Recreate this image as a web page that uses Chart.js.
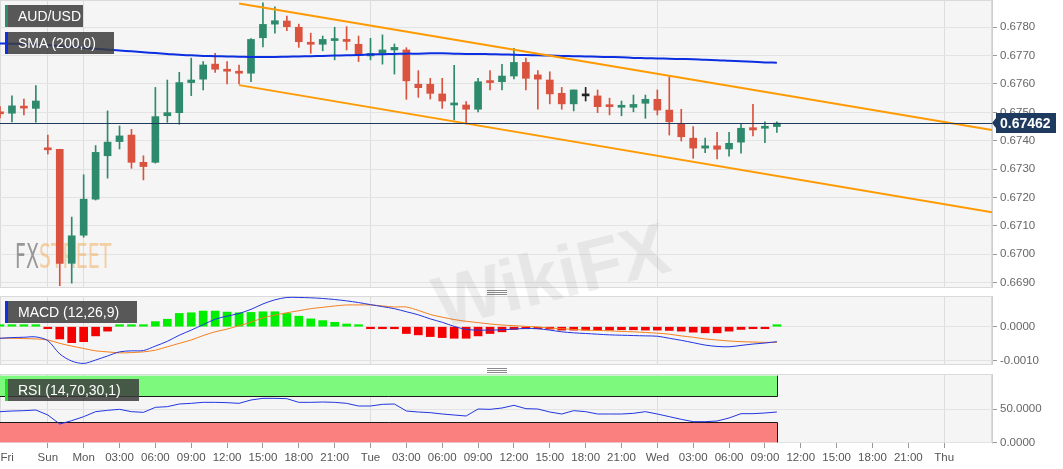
<!DOCTYPE html>
<html>
<head>
<meta charset="utf-8">
<title>AUD/USD</title>
<script src="https://cdn.jsdelivr.net/npm/chart.js@4.4.1/dist/chart.umd.min.js"></script>
<style>
  body { margin: 0; background: #fff; }
  #wrap { position: relative; width: 1063px; height: 469px; overflow: hidden; font-family: "Liberation Sans", Arial, sans-serif; }
  canvas { position: absolute; left: 0; }
  .tag { position: absolute; left: 5px; height: 22px; line-height: 22px; padding-left: 10px; box-sizing: border-box;
         color: #fff; font-size: 14px; background: rgba(60,60,60,0.85); border-left: 3px solid; white-space: nowrap; }
  .grip { position: absolute; left: 487px; width: 20px; height: 5px;
          background: repeating-linear-gradient(#8a8a8a 0 1px, transparent 1px 2px); }
  .wm { position: absolute; left: 445px; top: 262px; font: bold 72px "Liberation Sans", Arial, sans-serif;
        color: rgba(110,110,110,0.11); transform: rotate(-14deg); transform-origin: left bottom; pointer-events: none; }
</style>
</head>
<body>
<div id="wrap">
  <canvas id="main" width="1063" height="288" style="top:0"></canvas>
  <canvas id="macd" width="1063" height="69" style="top:296px"></canvas>
  <canvas id="rsi" width="1063" height="95" style="top:374px"></canvas>
  <div class="tag" style="top:5px;width:78px;border-color:#2e8a6c">AUD/USD</div>
  <div class="tag" style="top:32px;width:109px;border-color:#1030e0">SMA (200,0)</div>
  <div class="tag" style="top:301px;width:132px;border-color:#1030e0">MACD (12,26,9)</div>
  <div class="tag" style="top:379px;width:134px;border-color:#22dd22">RSI (14,70,30,1)</div>
  <div class="grip" style="top:290px"></div>
  <div class="grip" style="top:368px"></div>
  <div class="wm">WikiFX</div>
</div>
<script>
// hourly candles, index 0 = last Friday bars, 7 = Mon 00:00, 65 = Wed 10:00
const OPEN = [0.67500, 0.67497, 0.67520, 0.67514, 0.67372, 0.67370, 0.66968, 0.67067, 0.67194, 0.67347,
  0.67397, 0.67420, 0.67324, 0.67324, 0.67488, 0.67499, 0.67605, 0.67617, 0.67670, 0.67647,
  0.67643, 0.67638, 0.67763, 0.67811, 0.67822, 0.67800, 0.67747, 0.67740, 0.67753, 0.67753,
  0.67740, 0.67699, 0.67708, 0.67720, 0.67720, 0.67599, 0.67599, 0.67565, 0.67526, 0.67526,
  0.67511, 0.67611, 0.67608, 0.67628, 0.67676, 0.67632, 0.67614, 0.67567, 0.67530, 0.67558,
  0.67558, 0.67526, 0.67518, 0.67518, 0.67532, 0.67546, 0.67508, 0.67459, 0.67409, 0.67374,
  0.67382, 0.67371, 0.67395, 0.67446, 0.67444, 0.67450];
const HIGH = [0.67520, 0.67558, 0.67547, 0.67594, 0.67420, 0.67370, 0.67131, 0.67280, 0.67383, 0.67505,
  0.67452, 0.67440, 0.67347, 0.67588, 0.67614, 0.67641, 0.67691, 0.67679, 0.67708, 0.67679,
  0.67667, 0.67760, 0.67886, 0.67872, 0.67839, 0.67811, 0.67779, 0.67769, 0.67800, 0.67802,
  0.67769, 0.67761, 0.67773, 0.67741, 0.67728, 0.67647, 0.67620, 0.67620, 0.67666, 0.67538,
  0.67620, 0.67647, 0.67669, 0.67726, 0.67691, 0.67647, 0.67643, 0.67588, 0.67579, 0.67588,
  0.67579, 0.67550, 0.67540, 0.67561, 0.67561, 0.67579, 0.67626, 0.67511, 0.67450, 0.67409,
  0.67430, 0.67430, 0.67459, 0.67528, 0.67467, 0.67467];
const LOW = [0.67480, 0.67466, 0.67491, 0.67465, 0.67353, 0.66889, 0.66898, 0.67060, 0.67191, 0.67268,
  0.67371, 0.67303, 0.67262, 0.67321, 0.67465, 0.67458, 0.67559, 0.67579, 0.67641, 0.67600,
  0.67600, 0.67608, 0.67731, 0.67779, 0.67788, 0.67729, 0.67708, 0.67717, 0.67685, 0.67720,
  0.67679, 0.67685, 0.67670, 0.67635, 0.67546, 0.67553, 0.67547, 0.67514, 0.67473, 0.67459,
  0.67502, 0.67579, 0.67579, 0.67618, 0.67579, 0.67511, 0.67530, 0.67511, 0.67505, 0.67540,
  0.67499, 0.67491, 0.67488, 0.67502, 0.67479, 0.67491, 0.67420, 0.67399, 0.67338, 0.67358,
  0.67336, 0.67346, 0.67356, 0.67417, 0.67393, 0.67429];
const CLOSE = [0.67495, 0.67523, 0.67515, 0.67540, 0.67368, 0.66968, 0.67065, 0.67194, 0.67359, 0.67395,
  0.67417, 0.67324, 0.67309, 0.67485, 0.67499, 0.67605, 0.67614, 0.67667, 0.67652, 0.67645,
  0.67638, 0.67757, 0.67810, 0.67823, 0.67802, 0.67749, 0.67740, 0.67757, 0.67757, 0.67750,
  0.67702, 0.67708, 0.67720, 0.67729, 0.67611, 0.67587, 0.67567, 0.67540, 0.67530, 0.67511,
  0.67608, 0.67605, 0.67628, 0.67676, 0.67620, 0.67617, 0.67565, 0.67530, 0.67579, 0.67558,
  0.67520, 0.67520, 0.67523, 0.67528, 0.67546, 0.67508, 0.67467, 0.67414, 0.67374, 0.67382,
  0.67370, 0.67391, 0.67444, 0.67438, 0.67450, 0.67462];
const SMA_200 = [0.67743, 0.67742, 0.67741, 0.67739, 0.67737, 0.67734, 0.67731, 0.67728, 0.67724, 0.67721,
  0.67718, 0.67715, 0.67712, 0.67709, 0.67706, 0.67703, 0.67701, 0.67699, 0.67698, 0.67697,
  0.67696, 0.67695, 0.67695, 0.67695, 0.67696, 0.67697, 0.67698, 0.67699, 0.67700, 0.67701,
  0.67702, 0.67704, 0.67705, 0.67706, 0.67707, 0.67707, 0.67708, 0.67708, 0.67707, 0.67706,
  0.67706, 0.67705, 0.67704, 0.67703, 0.67702, 0.67701, 0.67700, 0.67699, 0.67698, 0.67697,
  0.67696, 0.67695, 0.67694, 0.67692, 0.67691, 0.67690, 0.67689, 0.67688, 0.67687, 0.67685,
  0.67684, 0.67682, 0.67680, 0.67678, 0.67676, 0.67675];
const LAST_PRICE = 0.67462;

// descending channel drawn on the price panel (hour index -> price)
const CHANNEL_X = [20, 83];
const CHANNEL_UPPER = [0.67884, 0.67438];
const CHANNEL_LOWER = [0.67596, 0.67148];

const MACD_LINE = [-0.00034, -0.00032, -0.00031, -0.00030, -0.00041, -0.00080, -0.00101, -0.00108, -0.00098, -0.00086,
  -0.00074, -0.00071, -0.00070, -0.00057, -0.00043, -0.00025, -0.00010, 0.00006, 0.00022, 0.00031,
  0.00039, 0.00051, 0.00067, 0.00079, 0.00086, 0.00086, 0.00085, 0.00083, 0.00080, 0.00076,
  0.00071, 0.00065, 0.00059, 0.00053, 0.00044, 0.00035, 0.00023, 0.00013, 0.00001, -0.00008,
  -0.00010, -0.00010, -0.00009, -0.00007, -0.00005, -0.00006, -0.00010, -0.00015, -0.00018, -0.00020,
  -0.00022, -0.00024, -0.00025, -0.00026, -0.00027, -0.00028, -0.00034, -0.00040, -0.00047, -0.00054,
  -0.00058, -0.00059, -0.00055, -0.00051, -0.00048, -0.00044];
const MACD_SIGNAL = [-0.00034, -0.00034, -0.00035, -0.00036, -0.00039, -0.00049, -0.00057, -0.00064, -0.00071, -0.00074,
  -0.00077, -0.00076, -0.00074, -0.00069, -0.00059, -0.00049, -0.00039, -0.00026, -0.00015, -0.00007,
  0.00003, 0.00013, 0.00026, 0.00034, 0.00041, 0.00047, 0.00053, 0.00057, 0.00061, 0.00064,
  0.00064, 0.00064, 0.00061, 0.00058, 0.00058, 0.00048, 0.00036, 0.00028, 0.00021, 0.00016,
  0.00012, 0.00008, 0.00005, 0.00003, 0.00001, -0.00001, -0.00004, -0.00006, -0.00008, -0.00010,
  -0.00011, -0.00012, -0.00014, -0.00015, -0.00017, -0.00019, -0.00022, -0.00027, -0.00031, -0.00036,
  -0.00039, -0.00042, -0.00044, -0.00045, -0.00046, -0.00046];
const MACD_HIST = [0.00001, 0.00001, 0.00001, 0.00001, -0.00002, -0.00036, -0.00047, -0.00044, -0.00027, -0.00013,
  0.00001, 0.00002, 0.00002, 0.00015, 0.00022, 0.00039, 0.00041, 0.00046, 0.00046, 0.00043,
  0.00041, 0.00042, 0.00044, 0.00044, 0.00039, 0.00031, 0.00023, 0.00018, 0.00013, 0.00008,
  0.00001, -0.00002, -0.00003, -0.00006, -0.00020, -0.00024, -0.00029, -0.00032, -0.00034, -0.00034,
  -0.00027, -0.00020, -0.00015, -0.00008, -0.00006, -0.00006, -0.00007, -0.00010, -0.00010, -0.00010,
  -0.00010, -0.00010, -0.00009, -0.00009, -0.00010, -0.00010, -0.00011, -0.00013, -0.00016, -0.00018,
  -0.00018, -0.00013, -0.00008, -0.00004, -0.00002, 0.00002];

const RSI_14 = [46, 47, 47.5, 48.5, 41, 27.5, 32.5, 38.5, 46, 48,
  49.5, 46, 45, 52.5, 53.5, 57.5, 58.5, 60, 60, 59.5,
  58.5, 63.5, 66, 66, 65.5, 60, 60, 60.5, 60, 58.5,
  54.5, 54.5, 57, 57.5, 47, 45.5, 44.5, 42.5, 41, 39.5,
  50, 49.5, 51.5, 55.5, 50.5, 50, 45.5, 42.5, 47.5, 46,
  42.5, 42.5, 42.5, 43.5, 46, 42.5, 38.5, 34.5, 31, 31,
  32, 36.5, 43, 43, 44, 45.5];
const RSI_BANDS = [30, 70];

const TIME_TICKS = [0.6, 4, 7, 10, 13, 16, 19, 22, 25, 28, 31, 34, 37, 40, 43, 46, 49, 52, 55, 58, 61, 64, 67, 70, 73, 76, 79];
const TIME_LABELS = ['Fri', 'Sun', 'Mon', '03:00', '06:00', '09:00', '12:00', '15:00', '18:00', '21:00',
  'Tue', '03:00', '06:00', '09:00', '12:00', '15:00', '18:00', '21:00',
  'Wed', '03:00', '06:00', '09:00', '12:00', '15:00', '18:00', '21:00', 'Thu'];
const DAY_TICKS = [4, 7, 31, 55, 79];
const PRICE_TICKS = [0.6690, 0.6700, 0.6710, 0.6720, 0.6730, 0.6740, 0.6750, 0.6760, 0.6770, 0.6780];
const MACD_TICKS = [-0.0010, 0];
const RSI_TICKS = [0, 50];

Chart.defaults.font.family = '"Liberation Sans", Arial, sans-serif';
Chart.defaults.font.size = 11;
Chart.defaults.color = '#666';

const UP = '#2e8a6c', DOWN = '#d9533f', FLAT = '#222';
const IDX = OPEN.map((_, i) => i);
const candleColors = IDX.map(i => CLOSE[i] > OPEN[i] ? UP : (CLOSE[i] < OPEN[i] ? DOWN : FLAT));

function noPad(s) {
  s.paddingTop = 0; s.paddingBottom = 0; s.paddingLeft = 0; s.paddingRight = 0;
}

function timeAxis(showLabels) {
  return {
    type: 'linear', min: 0, max: 83, offset: false, bounds: 'data',
    afterBuildTicks: s => { s.ticks = TIME_TICKS.map(v => ({ value: v })); },
    afterFit: s => { s.height = showLabels ? 26 : 0; noPad(s); },
    grid: {
      offset: false,
      color: c => (c.tick && DAY_TICKS.includes(c.tick.value)) ? '#dddddd' : 'rgba(0,0,0,0)',
      drawTicks: showLabels,
      tickLength: 5,
      tickColor: c => c.index === 0 ? 'rgba(0,0,0,0)' : '#999'
    },
    border: { display: false },
    ticks: { display: showLabels, autoSkip: false, maxRotation: 0, padding: 3, color: '#555',
             font: { size: 11.5 }, callback: (v, i) => TIME_LABELS[i] }
  };
}

function valueAxis(min, max, ticks) {
  return {
    position: 'right', min: min, max: max, beginAtZero: false, bounds: 'data',
    afterBuildTicks: s => { s.ticks = ticks.map(v => ({ value: v })); },
    afterFit: s => { s.width = 71; noPad(s); },
    grid: { color: '#e3e3e3', tickLength: 5, tickColor: '#999' },
    border: { color: '#cfcfcf' },
    ticks: { padding: 3, color: '#666', font: { size: 11.5 }, callback: v => v.toFixed(4) }
  };
}

const panelBg = {
  id: 'panelBg',
  beforeDraw(chart) {
    const { ctx, chartArea: a } = chart;
    ctx.save();
    ctx.fillStyle = '#f5f5f5';
    ctx.fillRect(a.left, a.top, a.width, a.height);
    ctx.strokeStyle = '#dadada';
    ctx.lineWidth = 1;
    ctx.strokeRect(a.left + 0.5, a.top + 0.5, a.width - 1, a.height - 1);
    ctx.restore();
  }
};

const fxLogo = {
  id: 'fxLogo',
  beforeDatasetsDraw(chart) {
    const ctx = chart.ctx;
    ctx.save();
    ctx.font = '34px "DejaVu Sans Condensed", "DejaVu Sans", sans-serif';
    ctx.textBaseline = 'alphabetic';
    ctx.translate(15, 268);
    ctx.scale(0.62, 1);
    ctx.fillStyle = 'rgba(120,120,120,0.75)';
    ctx.fillText('FX', 0, 0);
    const w = ctx.measureText('FX').width;
    ctx.fillStyle = 'rgba(240,175,95,0.55)';
    ctx.fillText('STREET', w, 0);
    ctx.restore();
  }
};

const lastPrice = {
  id: 'lastPrice',
  afterDatasetsDraw(chart) {
    const { ctx, chartArea: a } = chart;
    const y = Math.round(chart.scales.y.getPixelForValue(LAST_PRICE)) + 0.5;
    ctx.save();
    ctx.strokeStyle = '#1e3a5f';
    ctx.lineWidth = 1;
    ctx.beginPath();
    ctx.moveTo(a.left, y);
    ctx.lineTo(a.right, y);
    ctx.stroke();
    ctx.restore();
  },
  afterDraw(chart) {
    const { ctx, chartArea: a } = chart;
    const y = Math.round(chart.scales.y.getPixelForValue(LAST_PRICE));
    const x0 = a.right + 4;
    ctx.save();
    ctx.fillStyle = '#1e3a5f';
    ctx.fillRect(x0, y - 10, 60, 20);
    ctx.beginPath();
    ctx.moveTo(x0, y - 5);
    ctx.lineTo(x0 - 4, y);
    ctx.lineTo(x0, y + 5);
    ctx.fill();
    ctx.fillStyle = '#fff';
    ctx.font = 'bold 14px "Liberation Sans", Arial, sans-serif';
    ctx.textBaseline = 'middle';
    ctx.fillText(LAST_PRICE.toFixed(5), x0 + 4, y + 1);
    ctx.restore();
  }
};

const rsiBands = {
  id: 'rsiBands',
  beforeDatasetsDraw(chart) {
    const { ctx, chartArea: a, scales: { x, y } } = chart;
    const xr = Math.round(x.getPixelForValue(RSI_14.length - 1)) + 0.5;
    const yTop = y.getPixelForValue(100), yHi = Math.round(y.getPixelForValue(RSI_BANDS[1])) + 0.5;
    const yLo = Math.round(y.getPixelForValue(RSI_BANDS[0])) + 0.5, yBot = y.getPixelForValue(0);
    ctx.save();
    ctx.fillStyle = '#7dfa7d';
    ctx.fillRect(a.left, yTop, xr - a.left, yHi - yTop);
    ctx.fillStyle = '#fa7f7f';
    ctx.fillRect(a.left, yLo, xr - a.left, yBot - yLo);
    ctx.strokeStyle = '#1a1a1a';
    ctx.lineWidth = 1;
    ctx.beginPath();
    ctx.moveTo(a.left, yHi); ctx.lineTo(xr, yHi); ctx.lineTo(xr, yTop);
    ctx.moveTo(a.left, yLo); ctx.lineTo(xr, yLo); ctx.lineTo(xr, yBot);
    ctx.stroke();
    ctx.restore();
  }
};

const baseOptions = {
  responsive: false,
  animation: false,
  devicePixelRatio: 1,
  events: [],
  layout: { padding: 0, autoPadding: false },
  plugins: { legend: { display: false }, tooltip: { enabled: false } }
};

new Chart(document.getElementById('main'), {
  type: 'bar',
  data: {
    datasets: [
      { type: 'line', data: CHANNEL_X.map((x, i) => ({ x: x, y: CHANNEL_UPPER[i] })),
        borderColor: '#ff9a00', borderWidth: 2, pointRadius: 0, order: 0 },
      { type: 'line', data: CHANNEL_X.map((x, i) => ({ x: x, y: CHANNEL_LOWER[i] })),
        borderColor: '#ff9a00', borderWidth: 2, pointRadius: 0, order: 0 },
      { type: 'line', data: IDX.map(i => ({ x: i, y: SMA_200[i] })),
        borderColor: '#0b2ee0', borderWidth: 2, pointRadius: 0, tension: 0.4, order: 0 },
      { data: IDX.map(i => ({ x: i, y: [OPEN[i], CLOSE[i]] })), backgroundColor: candleColors,
        barThickness: 7, minBarLength: 2, grouped: false, order: 1 },
      { data: IDX.map(i => ({ x: i, y: [LOW[i], HIGH[i]] })), backgroundColor: candleColors,
        barThickness: 1, grouped: false, order: 2 }
    ]
  },
  options: Object.assign({}, baseOptions, {
    scales: { x: timeAxis(false), y: valueAxis(0.66881, 0.67896, PRICE_TICKS) }
  }),
  plugins: [panelBg, fxLogo, lastPrice]
});

new Chart(document.getElementById('macd'), {
  type: 'bar',
  data: {
    datasets: [
      { type: 'line', data: IDX.map(i => ({ x: i, y: MACD_LINE[i] })),
        borderColor: '#2236e0', borderWidth: 1, pointRadius: 0, tension: 0.3, order: 0 },
      { type: 'line', data: IDX.map(i => ({ x: i, y: MACD_SIGNAL[i] })),
        borderColor: '#f3801f', borderWidth: 1, pointRadius: 0, tension: 0.3, order: 0 },
      { data: IDX.map(i => ({ x: i, y: MACD_HIST[i] })),
        backgroundColor: MACD_HIST.map(v => v >= 0 ? '#00ee00' : '#f40000'),
        barThickness: 8, minBarLength: 2, grouped: false, order: 1 }
    ]
  },
  options: Object.assign({}, baseOptions, {
    scales: { x: timeAxis(false), y: valueAxis(-0.001126, 0.000903, MACD_TICKS) }
  }),
  plugins: [panelBg]
});

new Chart(document.getElementById('rsi'), {
  type: 'line',
  data: {
    datasets: [
      { data: IDX.map(i => ({ x: i, y: RSI_14[i] })),
        borderColor: '#2236e0', borderWidth: 1, pointRadius: 0, tension: 0 }
    ]
  },
  options: Object.assign({}, baseOptions, {
    scales: { x: timeAxis(true), y: valueAxis(-1, 102.5, RSI_TICKS) }
  }),
  plugins: [panelBg, rsiBands]
});
</script>
</body>
</html>
